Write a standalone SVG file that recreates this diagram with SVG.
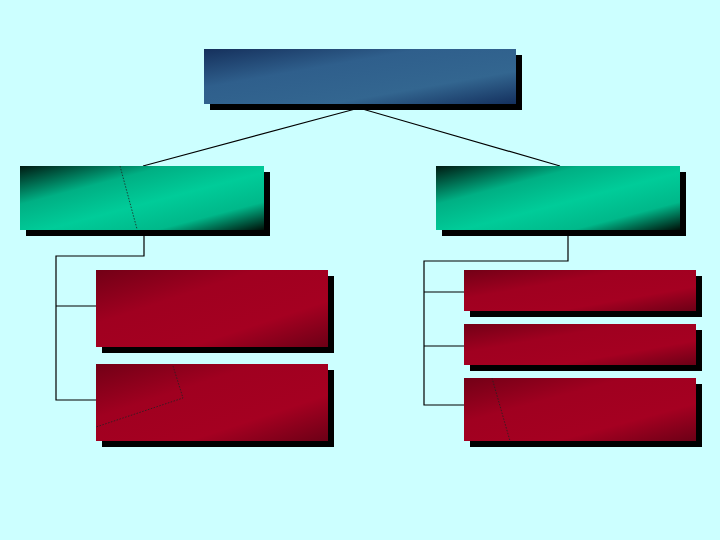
<svg xmlns="http://www.w3.org/2000/svg" width="720" height="540" viewBox="0 0 720 540">
<defs>
<linearGradient id="gBlue" x1="0" y1="0" x2="1" y2="1">
<stop offset="0" stop-color="#15305c"/>
<stop offset="0.35" stop-color="#2f5f8c"/>
<stop offset="0.7" stop-color="#336690"/>
<stop offset="1" stop-color="#14305e"/>
</linearGradient>
<linearGradient id="gGreen" x1="0" y1="0" x2="1" y2="1">
<stop offset="0" stop-color="#001a12"/>
<stop offset="0.3" stop-color="#00b084"/>
<stop offset="0.55" stop-color="#00cc99"/>
<stop offset="0.78" stop-color="#00b88a"/>
<stop offset="1" stop-color="#001008"/>
</linearGradient>
<linearGradient id="gRed" x1="0" y1="0" x2="1" y2="1">
<stop offset="0" stop-color="#720016"/>
<stop offset="0.35" stop-color="#a00020"/>
<stop offset="0.7" stop-color="#a50021"/>
<stop offset="1" stop-color="#6c0016"/>
</linearGradient>
</defs>
<style>
.shadow{fill:#000}
.blue{fill:url(#gBlue)}
.green{fill:url(#gGreen)}
.red{fill:url(#gRed)}
.conn{fill:none;stroke:#000;stroke-width:1.2}
.dot{fill:none;stroke:#222;stroke-width:0.8;stroke-dasharray:1.5 1.5}
</style>
<rect width="720" height="540" fill="#ccffff"/>
<g id="connectors">
<polyline class="conn" points="143,166 359,108 560,166"/>
<polyline class="conn" points="144,236 144,256 56,256 56,400 96,400"/>
<line class="conn" x1="56" y1="306" x2="96" y2="306"/>
<polyline class="conn" points="568,236 568,261 424,261 424,405 464,405"/>
<line class="conn" x1="424" y1="292" x2="464" y2="292"/>
<line class="conn" x1="424" y1="346" x2="464" y2="346"/>
</g>
<g id="top">
<rect class="shadow" x="210" y="55" width="312" height="55"/>
<rect class="blue" x="204" y="49" width="312" height="55"/>
</g>
<g id="left-mid">
<rect class="shadow" x="26" y="172" width="244" height="64"/>
<rect class="green" x="20" y="166" width="244" height="64"/>
<line class="dot" x1="120" y1="166" x2="137" y2="229"/>
</g>
<g id="right-mid">
<rect class="shadow" x="442" y="172" width="244" height="64"/>
<rect class="green" x="436" y="166" width="244" height="64"/>
</g>
<g id="left-1">
<rect class="shadow" x="102" y="276" width="232" height="77"/>
<rect class="red" x="96" y="270" width="232" height="77"/>
</g>
<g id="left-2">
<rect class="shadow" x="102" y="370" width="232" height="77"/>
<rect class="red" x="96" y="364" width="232" height="77"/>
<polyline class="dot" points="173,366 183,398 96,427"/>
</g>
<g id="right-1">
<rect class="shadow" x="470" y="276" width="232" height="41"/>
<rect class="red" x="464" y="270" width="232" height="41"/>
</g>
<g id="right-2">
<rect class="shadow" x="470" y="330" width="232" height="41"/>
<rect class="red" x="464" y="324" width="232" height="41"/>
</g>
<g id="right-3">
<rect class="shadow" x="470" y="384" width="232" height="63"/>
<rect class="red" x="464" y="378" width="232" height="63"/>
<line class="dot" x1="492" y1="378" x2="510" y2="441"/>
</g>
</svg>
